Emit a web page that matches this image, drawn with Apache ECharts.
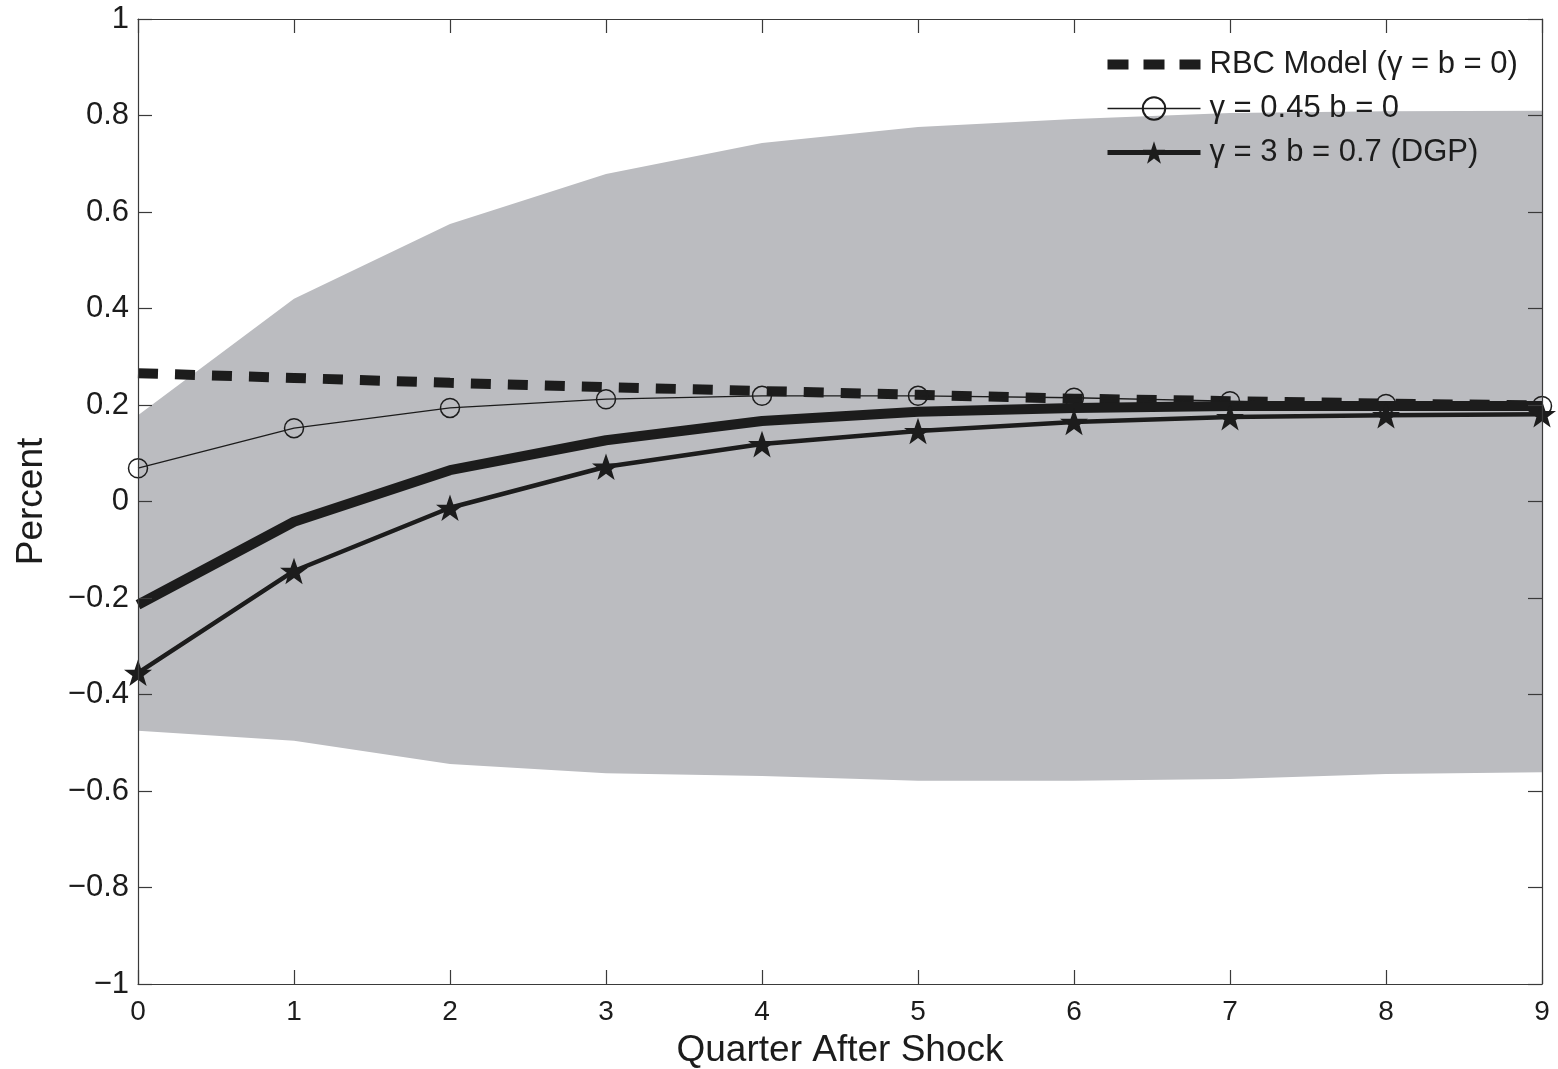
<!DOCTYPE html>
<html>
<head>
<meta charset="utf-8">
<script src="https://cdn.jsdelivr.net/npm/echarts@6/dist/echarts.min.js"></script>
<style>
  html, body { margin: 0; padding: 0; background: #fff; }
</style>
</head>
<body>
<div id="chart" style="width:1558px;height:1069px"></div>
<script>
// quarters after the shock
const quarters = ['0', '1', '2', '3', '4', '5', '6', '7', '8', '9'];
// confidence band (grey area)
const bandLower = [-0.475, -0.496, -0.544, -0.563, -0.569, -0.579, -0.579, -0.575, -0.565, -0.561];
const bandUpper = [0.179, 0.42, 0.575, 0.679, 0.743, 0.776, 0.793, 0.805, 0.809, 0.81];
// model responses
const rbc = [0.266, 0.256, 0.246, 0.237, 0.229, 0.221, 0.213, 0.208, 0.203, 0.199];
const gamma045 = [0.069, 0.152, 0.194, 0.212, 0.219, 0.219, 0.215, 0.208, 0.202, 0.198];
const medianLine = [-0.214, -0.042, 0.065, 0.127, 0.167, 0.186, 0.194, 0.198, 0.198, 0.198];
const dgp = [-0.355, -0.144, -0.013, 0.072, 0.119, 0.146, 0.165, 0.175, 0.179, 0.181];

const FONT = '"Liberation Sans", Arial, Helvetica, sans-serif';
const INK = '#1c1c1c';
const STAR = 'path://M0,-10 L2.35,-3.09 9.51,-3.09 3.8,1.18 5.88,8.09 0,3.82 -5.88,8.09 -3.8,1.18 -9.51,-3.09 -2.35,-3.09Z';
// legend sample for the dashed line: three thick dashes
const DASH_ICON = 'path://M0,0 M93,28 M0,9h21v10h-21z M36,9h21v10h-21z M72,9h21v10h-21z';

const NAME_RBC = 'RBC Model (\u03b3 = b = 0)';
const NAME_045 = '\u03b3 = 0.45 b = 0';
const NAME_DGP = '\u03b3 = 3 b = 0.7 (DGP)';

// band height on top of the lower edge (stacked)
const bandWidth = bandUpper.map((u, i) => +(u - bandLower[i]).toFixed(3));

const fmtY = (v) => String(+v.toFixed(1)).replace('-', '\u2212');

const axisLineStyle = { color: '#3a3a3a', width: 1.2 };

const option = {
  animation: false,
  backgroundColor: '#fff',
  textStyle: { fontFamily: FONT },
  grid: { left: 138, right: 16, top: 19, bottom: 85, outerBoundsMode: 'none', containLabel: false },
  legend: {
    data: [
      { name: NAME_RBC, icon: DASH_ICON, itemStyle: { color: INK } },
      { name: NAME_045, lineStyle: { width: 1.3, color: INK } },
      { name: NAME_DGP, lineStyle: { width: 5, color: INK } }
    ],
    orient: 'vertical',
    left: 1105,
    top: 49,
    padding: 0,
    itemWidth: 93,
    itemHeight: 28,
    itemGap: 13,
    textStyle: { fontSize: 31, color: INK, fontFamily: FONT, padding: [0, 0, 0, 4] }
  },
  xAxis: [
    {
      type: 'category', data: quarters, boundaryGap: false, z: 10,
      name: 'Quarter After Shock', nameLocation: 'middle', nameGap: 48,
      nameTextStyle: { fontSize: 37, color: INK, fontFamily: FONT },
      axisLine: { show: true, onZero: false, lineStyle: axisLineStyle },
      axisTick: { show: true, inside: true, length: 14, lineStyle: axisLineStyle },
      axisLabel: { fontSize: 28, color: INK, margin: 14, fontFamily: FONT },
      splitLine: { show: false }
    },
    {
      type: 'category', data: quarters, boundaryGap: false, z: 10, position: 'top',
      axisLine: { show: true, onZero: false, lineStyle: axisLineStyle },
      axisTick: { show: true, inside: true, length: 14, lineStyle: axisLineStyle },
      axisLabel: { show: false },
      splitLine: { show: false }
    }
  ],
  yAxis: [
    {
      type: 'value', min: -1, max: 1, interval: 0.2, z: 10,
      name: 'Percent', nameLocation: 'middle', nameGap: 88, nameRotate: 90,
      nameTextStyle: { fontSize: 37, color: INK, fontFamily: FONT },
      axisLine: { show: true, onZero: false, lineStyle: axisLineStyle },
      axisTick: { show: true, inside: true, length: 14, lineStyle: axisLineStyle },
      axisLabel: { fontSize: 31, color: INK, margin: 9, fontFamily: FONT, formatter: fmtY },
      splitLine: { show: false }
    },
    {
      type: 'value', min: -1, max: 1, interval: 0.2, z: 10, position: 'right',
      axisLine: { show: true, onZero: false, lineStyle: axisLineStyle },
      axisTick: { show: true, inside: true, length: 14, lineStyle: axisLineStyle },
      axisLabel: { show: false },
      splitLine: { show: false }
    }
  ],
  series: [
    {
      name: 'bandLower', type: 'line', data: bandLower,
      stack: 'band', stackStrategy: 'all', symbol: 'none', silent: true,
      lineStyle: { opacity: 0 }, z: 1
    },
    {
      name: 'bandRange', type: 'line', data: bandWidth,
      stack: 'band', stackStrategy: 'all', symbol: 'none', silent: true,
      lineStyle: { opacity: 0 },
      areaStyle: { color: '#bbbcc0', opacity: 1 }, z: 1
    },
    {
      name: NAME_RBC, type: 'line', data: rbc,
      symbol: 'none',
      lineStyle: { color: INK, width: 10, type: [20, 17] },
      itemStyle: { color: INK }, z: 3
    },
    {
      name: NAME_045, type: 'line', data: gamma045,
      symbol: 'circle', symbolSize: 19, showAllSymbol: true,
      lineStyle: { color: INK, width: 1.3 },
      itemStyle: { color: 'transparent', borderColor: INK, borderWidth: 1.5 }, z: 4
    },
    {
      name: 'median', type: 'line', data: medianLine,
      symbol: 'none',
      lineStyle: { color: INK, width: 10 }, z: 5
    },
    {
      name: NAME_DGP, type: 'line', data: dgp,
      symbol: STAR, symbolSize: 28, symbolKeepAspect: true, showAllSymbol: true,
      lineStyle: { color: INK, width: 4.5 },
      itemStyle: { color: INK }, z: 6
    }
  ]
};

const myChart = echarts.init(document.getElementById('chart'));
myChart.setOption(option);
</script>
</body>
</html>
